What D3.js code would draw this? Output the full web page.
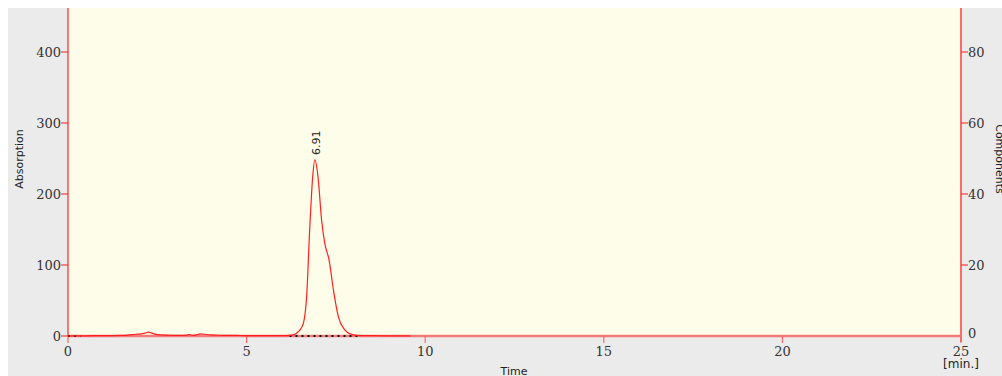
<!DOCTYPE html>
<html>
<head>
<meta charset="utf-8">
<script src="https://cdn.jsdelivr.net/npm/d3@7"></script>
<style>
  body { margin: 0; background: #fff; }
  svg { display: block; }
</style>
</head>
<body>
<div id="chart"></div>
<script>
const width = 1002, height = 376;

// chromatogram trace
const times = [0, 0.5, 1.0, 1.5, 1.7, 1.9, 2.05, 2.15, 2.25, 2.35, 2.5, 2.7, 3.0, 3.3, 3.4, 3.5, 3.6, 3.7, 3.8, 4.0, 4.3, 4.7, 5.0, 5.5, 6.0, 6.2, 6.3, 6.4, 6.5, 6.59, 6.68, 6.77, 6.85, 6.91, 7.0, 7.1, 7.19, 7.31, 7.43, 7.57, 7.75, 7.9, 8.1, 8.5, 9.0, 9.6];
const absorb = [0, 0.3, 0.5, 0.8, 1.5, 2.5, 3, 4, 5.5, 4, 2, 1.2, 1, 1, 2, 0.8, 1.5, 3, 2.5, 1.5, 1, 0.8, 0.6, 0.5, 0.5, 0.8, 1.5, 4, 9, 18, 55, 154, 224, 248, 224, 163, 130, 107, 65, 27, 8.5, 3, 1, 0.5, 0.3, 0];
const trace = times.map((t, i) => ({t: t, v: absorb[i]}));

// baseline segments (dotted)
const baselines = [[0, 0.35], [6.2, 8.1]];

const peakLabels = [{t: 6.91, v: 248, label: "6.91"}];

const xTicks = [0, 5, 10, 15, 20, 25];
const yTicks = [0, 100, 200, 300, 400];
const y2Ticks = [0, 20, 40, 60, 80];

const mLeft = 68, mRight = 961, mTop = 8, mBottom = 336;

const x = d3.scaleLinear().domain([0, 25]).range([mLeft, mRight]);
const y = d3.scaleLinear().domain([0, 400]).range([mBottom, 52]);
const y2 = d3.scaleLinear().domain([0, 80]).range([mBottom, 52]);

const svg = d3.select("#chart").append("svg")
    .attr("width", width)
    .attr("height", height);

svg.append("rect")
    .attr("x", 8).attr("y", 8)
    .attr("width", width - 8).attr("height", height - 8)
    .attr("fill", "#ebebeb");

svg.append("rect")
    .attr("x", mLeft).attr("y", mTop)
    .attr("width", mRight - mLeft).attr("height", mBottom - mTop)
    .attr("fill", "#fdfde9");

const tickFont = "DejaVu Serif, serif";
const labelFont = "DejaVu Sans, sans-serif";

// left axis
svg.append("line")
    .attr("x1", mLeft).attr("x2", mLeft)
    .attr("y1", mTop).attr("y2", mBottom)
    .attr("stroke", "#ff4d4d").attr("stroke-width", 1.5);
const yl = svg.append("g").selectAll("g").data(yTicks).join("g");
yl.append("line")
    .attr("x1", mLeft - 7).attr("x2", mLeft)
    .attr("y1", d => y(d)).attr("y2", d => y(d))
    .attr("stroke", "#ff3b3b").attr("stroke-width", 1.2);
yl.append("text")
    .attr("x", mLeft - 7).attr("y", d => y(d) + 4.5)
    .attr("text-anchor", "end")
    .attr("font-family", tickFont).attr("font-size", 13)
    .attr("fill", "#333")
    .text(d => d);

// right axis
svg.append("line")
    .attr("x1", mRight).attr("x2", mRight)
    .attr("y1", mTop).attr("y2", mBottom + 6)
    .attr("stroke", "#ff3b3b").attr("stroke-width", 1.5);
const yr = svg.append("g").selectAll("g").data(y2Ticks).join("g");
yr.append("line")
    .attr("x1", mRight).attr("x2", mRight + 7)
    .attr("y1", d => y2(d)).attr("y2", d => y2(d))
    .attr("stroke", "#ff3b3b").attr("stroke-width", 1.2)
    .attr("display", d => d === 0 ? "none" : null);
yr.append("text")
    .attr("x", mRight + 7).attr("y", d => y2(d) + 4.5 + (d === 0 ? -3 : 0))
    .attr("font-family", tickFont).attr("font-size", 13)
    .attr("fill", "#333")
    .text(d => d);

// bottom axis
svg.append("line")
    .attr("x1", mLeft).attr("x2", mRight)
    .attr("y1", mBottom).attr("y2", mBottom)
    .attr("stroke", "#f47a7a").attr("stroke-width", 2.5);
const xl = svg.append("g").selectAll("g").data(xTicks).join("g");
xl.append("line")
    .attr("x1", d => x(d)).attr("x2", d => x(d))
    .attr("y1", mBottom).attr("y2", mBottom + 7)
    .attr("stroke", "#ff6666").attr("stroke-width", 1.2);
xl.append("text")
    .attr("x", d => x(d)).attr("y", mBottom + 20)
    .attr("text-anchor", "middle")
    .attr("font-family", tickFont).attr("font-size", 13)
    .attr("fill", "#333")
    .text(d => d);

svg.append("text")
    .attr("x", mRight).attr("y", 368)
    .attr("text-anchor", "middle")
    .attr("font-family", labelFont).attr("font-size", 12)
    .attr("fill", "#222")
    .text("[min.]");

svg.append("text")
    .attr("x", 514).attr("y", 375)
    .attr("text-anchor", "middle")
    .attr("font-family", labelFont).attr("font-size", 11)
    .attr("fill", "#222")
    .text("Time");

svg.append("text")
    .attr("transform", "translate(23,159) rotate(-90)")
    .attr("text-anchor", "middle")
    .attr("font-family", labelFont).attr("font-size", 11)
    .attr("fill", "#222")
    .text("Absorption");

svg.append("text")
    .attr("transform", "translate(996,159) rotate(90)")
    .attr("text-anchor", "middle")
    .attr("font-family", labelFont).attr("font-size", 11)
    .attr("fill", "#222")
    .text("Components");

// dotted baselines
svg.append("g").selectAll("line").data(baselines).join("line")
    .attr("x1", d => x(d[0])).attr("x2", d => x(d[1]))
    .attr("y1", mBottom).attr("y2", mBottom)
    .attr("stroke", "#111").attr("stroke-width", 2)
    .attr("stroke-dasharray", "2,4");

// trace
const line = d3.line()
    .x(d => x(d.t))
    .y(d => y(d.v))
    .curve(d3.curveMonotoneX);

svg.append("path")
    .datum(trace)
    .attr("d", line)
    .attr("fill", "none")
    .attr("stroke", "#ff1f1f")
    .attr("stroke-width", 1.2);

// peak label
svg.append("g").selectAll("text").data(peakLabels).join("text")
    .attr("transform", d => `translate(${x(d.t) + 5},${y(d.v) - 5}) rotate(-90)`)
    .attr("font-family", labelFont).attr("font-size", 11)
    .attr("fill", "#222")
    .text(d => d.label);
</script>
</body>
</html>
